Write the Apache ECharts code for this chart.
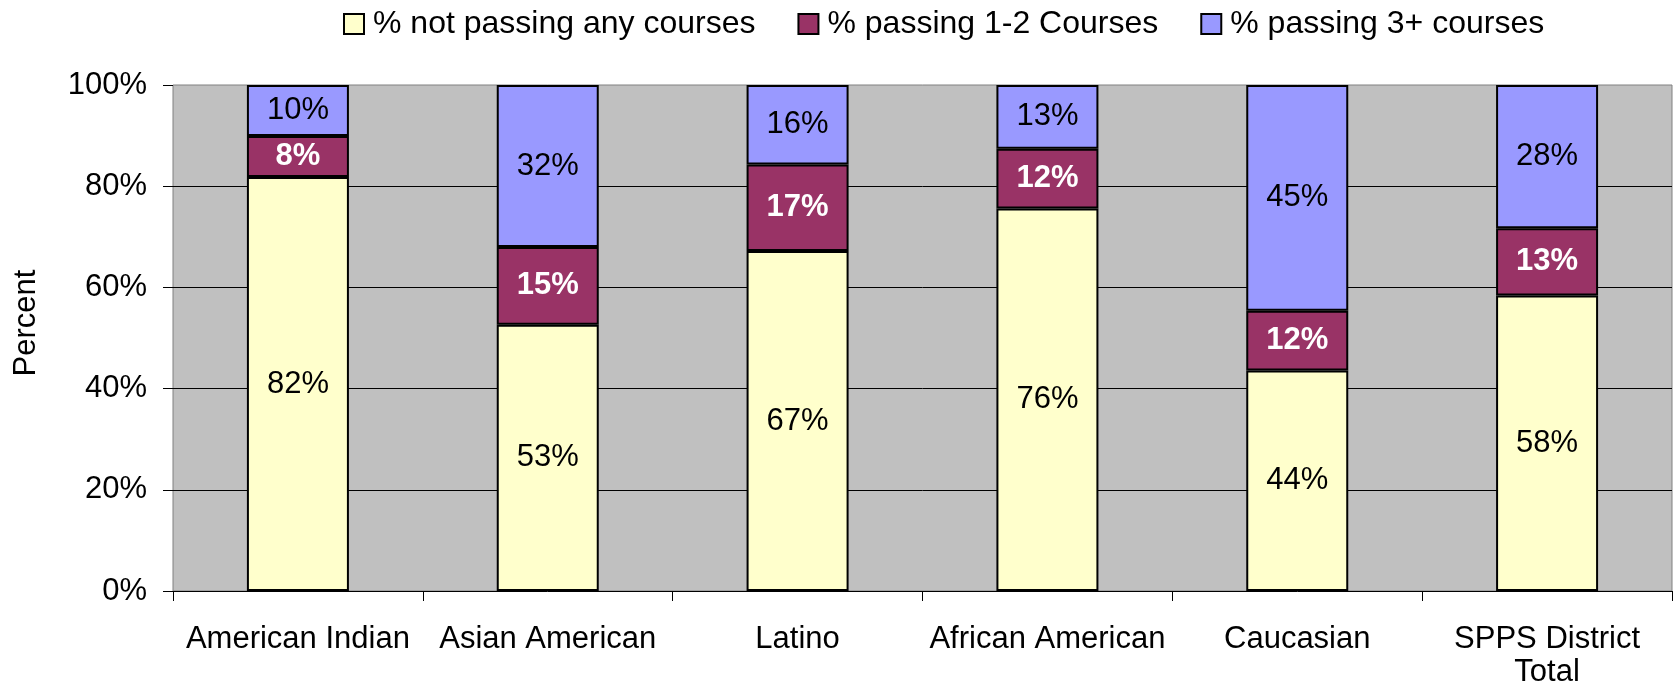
<!DOCTYPE html>
<html>
<head>
<meta charset="utf-8">
<script src="https://cdn.jsdelivr.net/npm/echarts@6/dist/echarts.min.js"></script>
<style>
	html, body { margin: 0; padding: 0; background: #fff; }
	#chart { width: 1673px; height: 687px; }
</style>
</head>
<body>
<div id="chart"></div>
<script>
const categories = [ "American Indian", "Asian American", "Latino", "African American", "Caucasian", "SPPS District\nTotal" ];
const seriesNames = [ "% not passing any courses", "% passing 1-2 Courses", "% passing 3+ courses" ];
const notPassing = [ 81.8, 52.6, 67.2, 75.6, 43.6, 58.4 ];
const passing12 = [ 8.1, 15.4, 17.1, 11.8, 11.8, 13.3 ];
const passing3 = [ 10.1, 32.0, 15.7, 12.6, 44.6, 28.3 ];
const yTicks = [ 0, 20, 40, 60, 80, 100 ];

const font = "'Liberation Sans', Arial, sans-serif";

/* 堆叠柱 */
function makeBar( name, data, color, labelColor, bold ) {
	return {
		name,
		type: "bar",
		stack: "total",
		barWidth: 102,
		data,
		itemStyle: { color, borderColor: "#000", borderWidth: 2 },
		label: {
			show: true,
			position: "inside",
			fontFamily: font,
			fontSize: 31,
			color: labelColor,
			fontWeight: bold ? "bold" : "normal",
			formatter: p => Math.round( p.value ) + "%"
		}
	};
}

const chart = echarts.init( document.getElementById( "chart" ) );
chart.setOption( {
	animation: false,
	backgroundColor: "#fff",
	textStyle: { fontFamily: font },
	legend: {
		top: 3,
		left: 338,
		itemWidth: 20,
		itemHeight: 20,
		itemGap: 42,
		icon: "rect",
		textStyle: { fontSize: 32, color: "#000", fontFamily: font, padding: [ 0, 0, 0, 4 ] },
		data: seriesNames
	},
	grid: {
		left: 173,
		right: 1,
		top: 85,
		bottom: 96,
		outerBoundsMode: "none",
		show: true,
		backgroundColor: "#C0C0C0",
		borderColor: "#808080",
		borderWidth: 1
	},
	xAxis: {
		type: "category",
		data: categories,
		axisLine: { lineStyle: { color: "#000", width: 1 } },
		axisTick: { show: true, length: 10, lineStyle: { color: "#000" } },
		axisLabel: { fontSize: 31, color: "#000", margin: 32, lineHeight: 33, fontFamily: font, interval: 0 }
	},
	yAxis: {
		type: "value",
		min: yTicks[0],
		max: yTicks[yTicks.length - 1],
		interval: 20,
		name: "Percent",
		nameLocation: "middle",
		nameGap: 131,
		nameTextStyle: { fontSize: 31, color: "#000", fontFamily: font, padding: [ 0, 0, 0, 30 ] },
		axisLine: { show: false },
		axisTick: { show: true, length: 10, lineStyle: { color: "#000" } },
		axisLabel: { fontSize: 31, color: "#000", margin: 26, fontFamily: font, formatter: "{value}%" },
		splitLine: { show: true, showMinLine: false, showMaxLine: false, lineStyle: { color: "#000", width: 1 } }
	},
	series: [
		makeBar( seriesNames[0], notPassing, "#FFFFCC", "#000", false ),
		makeBar( seriesNames[1], passing12, "#993366", "#fff", true ),
		makeBar( seriesNames[2], passing3, "#9999FF", "#000", false )
	]
} );
</script>
</body>
</html>
